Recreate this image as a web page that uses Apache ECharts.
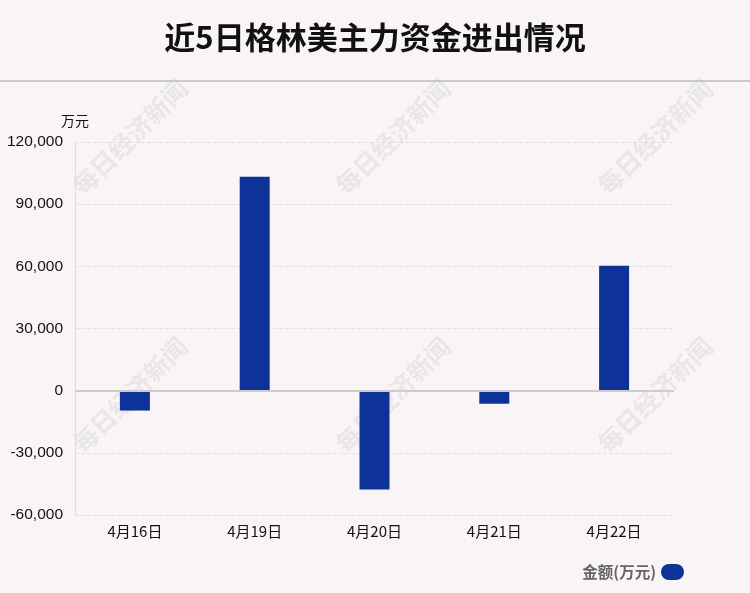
<!DOCTYPE html>
<html><head><meta charset="utf-8">
<script src="https://cdn.jsdelivr.net/npm/echarts@6/dist/echarts.min.js"></script>
<style>html,body{margin:0;padding:0;background:#f9f6f6;}#c{width:750px;height:593px;}</style>
</head><body><div id="c"></div>
<script>
const categories = ['4月16日','4月19日','4月20日','4月21日','4月22日'];
const values = [-9600, 103200, -47700, -6300, 60300];
const yTicks = [-60000, -30000, 0, 30000, 60000, 90000, 120000];
const seriesName = '金额(万元)';
const titleText = '近5日格林美主力资金进出情况';
const wmText = '每日经济新闻';

const chart = echarts.init(document.getElementById('c'));
const wmPos = [[130,137],[393,137],[655,137],[130,395],[393,395],[655,395]];
const graphics = wmPos.map(p => ({
  type:'text', x:p[0], y:p[1], rotation: Math.PI/4, silent:true, z:0,
  style:{text:wmText, fill:'rgba(200,200,200,0.32)', font:'bold 25px "Noto Sans CJK SC"', align:'center', verticalAlign:'middle'}
}));
graphics.push({type:'line', shape:{x1:0,y1:81,x2:750,y2:81}, style:{stroke:'#bdbdbd', lineWidth:1.5}});
chart.setOption({
  backgroundColor:'#f9f5f6',
  title:{text:titleText, left:'center', top:17, textStyle:{fontSize:31, fontWeight:'bold', color:'#111', fontFamily:'"Noto Sans CJK SC"'}},
  graphic: graphics,
  legend:{right:61, bottom:8, itemWidth:23, itemHeight:16, itemGap:6,
    icon:'path://M8,0 L15,0 A8,8 0 0 1 15,16 L8,16 A8,8 0 0 1 8,0 Z',
    data:[{name:seriesName}], align:'right',
    textStyle:{color:'#666', fontSize:15.5, fontWeight:'bold', fontFamily:'"Noto Sans CJK SC"'}},
  grid:{left:75, right:76, top:142, bottom:78},
  xAxis:{type:'category', data:categories,
    axisLine:{show:false}, axisTick:{show:false},
    axisLabel:{color:'#111', fontSize:15, margin:9, fontFamily:'"Noto Sans CJK SC"'}},
  yAxis:{type:'value', min:-60000, max:120000, interval:30000, name:'万元',
    nameLocation:'end', nameGap:14, nameTextStyle:{color:'#111', fontSize:14, align:'right', padding:[0,-14,0,0], fontFamily:'"Noto Sans CJK SC"'},
    axisLine:{show:true, lineStyle:{color:'#ddd'}}, axisTick:{show:false},
    axisLabel:{color:'#111', fontSize:15.5, margin:12, formatter: v => v.toLocaleString('en-US')},
    splitLine:{lineStyle:{type:'dashed', color:'#e0e0e0'}}},
  series:[{name:seriesName, type:'bar', data:values, barWidth:30, itemStyle:{color:'#0d3399'},
    markLine:{silent:true, symbol:'none', label:{show:false}, lineStyle:{color:'#ccc', type:'solid', width:2}, data:[{yAxis:0}]}}]
});
</script></body></html>
